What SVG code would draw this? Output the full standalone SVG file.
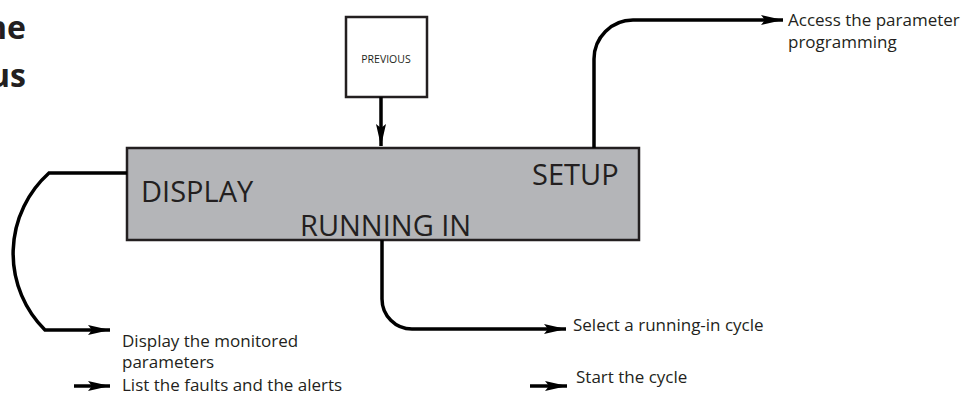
<svg xmlns="http://www.w3.org/2000/svg" width="974" height="396" viewBox="0 0 974 396">
<style>
text{font-family:"Open Sans","Noto Sans",sans-serif;fill:#231f20}
.lbl{font-size:17px}
.big{font-size:29px}
.hdr{font-size:32px;font-weight:bold;text-anchor:end}
.box{fill:#fff;stroke:#231f20;stroke-width:2.5}
.panel{fill:#b4b5b8;stroke:#231f20;stroke-width:2.5}
.con{fill:none;stroke:#000;stroke-width:3.5;marker-end:url(#ah)}
</style>
<defs>
<marker id="ah" markerUnits="userSpaceOnUse" markerWidth="24" markerHeight="12" refX="22" refY="6" orient="auto">
<path d="M0,1 L22,6 L0,11 L4,6 z" fill="#000"/>
</marker>
</defs>
<rect width="974" height="396" fill="#fff"/>
<g id="header">
<text class="hdr" x="26" y="39">ne</text>
<text class="hdr" x="26" y="87">us</text>
</g>
<g id="previous">
<rect class="box" x="346" y="17" width="81" height="80"/>
<text x="386" y="63" font-size="10.5" text-anchor="middle">PREVIOUS</text>
</g>
<g id="panel">
<rect class="panel" x="127" y="148" width="512" height="92"/>
<text class="big" x="141" y="202">DISPLAY</text>
<text class="big" x="532" y="185">SETUP</text>
<text class="big" x="300" y="236">RUNNING IN</text>
</g>
<g id="connectors">
<path class="con" d="M381,97 V146"/>
<path class="con" d="M594,148 V59 A39,39 0 0 1 633,20 H783"/>
<path class="con" d="M127,173 H49 A108,108 0 0 0 45,330 H110"/>
<path class="con" d="M382,240 V299 A30,30 0 0 0 412,329 H566"/>
<path class="con" d="M74,386 H110"/>
<path class="con" d="M530,386 H567"/>
</g>
<g id="labels">
<text class="lbl" x="788" y="26">Access the parameter</text>
<text class="lbl" x="788" y="48">programming</text>
<text class="lbl" x="122" y="347">Display the monitored</text>
<text class="lbl" x="122" y="368">parameters</text>
<text class="lbl" x="122" y="391">List the faults and the alerts</text>
<text class="lbl" x="573" y="331">Select a running-in cycle</text>
<text class="lbl" x="576" y="383">Start the cycle</text>
</g>
</svg>
